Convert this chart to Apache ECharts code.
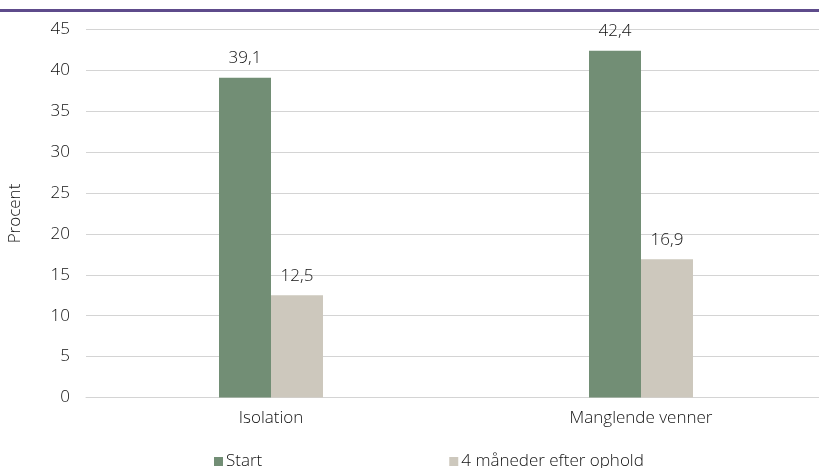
<!DOCTYPE html>
<html><head><meta charset="utf-8">
<script src="https://cdn.jsdelivr.net/npm/echarts@6/dist/echarts.min.js"></script>
<style>html,body{margin:0;padding:0;background:#fff}#c{width:819px;height:468px}</style>
</head><body><div id="c"></div>
<script>
const categories = ['Isolation', 'Manglende venner'];
const seriesNames = ['Start', '4 måneder efter ophold'];
const startValues = [39.1, 42.4];
const afterValues = [12.5, 16.9];
const yTicks = [0, 5, 10, 15, 20, 25, 30, 35, 40, 45];

const FONT = 'Open Sans';
const FS = 17;
const FW = 300;
const TC = '#111';
const chart = echarts.init(document.getElementById('c'), null, {renderer: 'canvas'});
const fmt = p => String(p.value).replace('.', ',');
const ts = {fontFamily: FONT, fontSize: FS, fontWeight: FW, color: TC};
chart.setOption({
  animation: false,
  textStyle: {fontFamily: FONT},
  graphic: [{type: 'rect', shape: {x: 0, y: 9, width: 819, height: 3}, style: {fill: '#5e4b8b'}}],
  grid: {left: 86, width: 740, top: 29.5, bottom: 70.5, containLabel: false, outerBoundsMode: 'none'},
  legend: {
    data: seriesNames, left: 209, top: 448, itemWidth: 9, itemHeight: 9, itemGap: 187,
    icon: 'rect', textStyle: Object.assign({padding: [0, 0, 0, -2]}, ts)
  },
  xAxis: {
    type: 'category', data: categories,
    axisLine: {lineStyle: {color: '#d4d4d4', width: 1}},
    axisTick: {show: false},
    axisLabel: Object.assign({margin: 12}, ts)
  },
  yAxis: {
    type: 'value', min: yTicks[0], max: yTicks[yTicks.length - 1], interval: 5,
    name: 'Procent', nameLocation: 'middle', nameGap: 62,
    nameTextStyle: ts,
    axisLine: {show: false}, axisTick: {show: false},
    axisLabel: Object.assign({margin: 16}, ts),
    splitLine: {lineStyle: {color: '#d4d4d4', width: 1}}
  },
  series: [
    {name: seriesNames[0], type: 'bar', data: startValues, barWidth: 52, barGap: '0%',
     itemStyle: {color: '#728e75'},
     label: Object.assign({show: true, position: 'top', distance: 11, formatter: fmt}, ts)},
    {name: seriesNames[1], type: 'bar', data: afterValues, barWidth: 52, barGap: '0%',
     itemStyle: {color: '#cdc8bd'},
     label: Object.assign({show: true, position: 'top', distance: 11, formatter: fmt}, ts)}
  ]
});
</script></body></html>
